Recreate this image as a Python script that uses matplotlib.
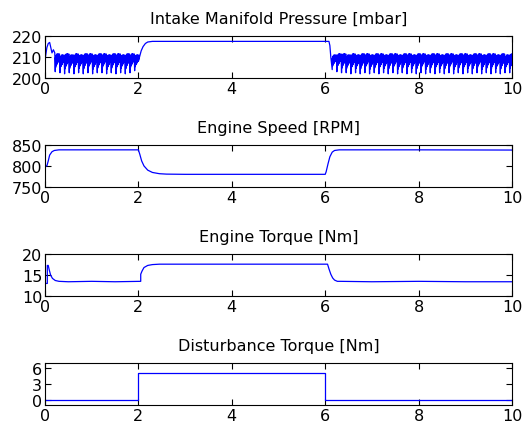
import numpy as np
import matplotlib
matplotlib.use("Agg")
import matplotlib.pyplot as plt

plt.rcParams['font.family'] = ['DejaVu Sans']

# ---------------- data ----------------
titles = ["Intake Manifold Pressure [mbar]", "Engine Speed [RPM]",
          "Engine Torque [Nm]", "Disturbance Torque [Nm]"]
xticks = [0, 2, 4, 6, 8, 10]
yticks_p = [200, 210, 220]
yticks_n = [750, 800, 850]
yticks_t = [10, 15, 20]
yticks_d = [0, 3, 6]

# intake manifold pressure: smooth parts
p_start_t = [0.0, 0.01, 0.04, 0.07, 0.10, 0.13, 0.15, 0.18, 0.21]
p_start_v = [200.0, 210.0, 214.5, 216.5, 217.0, 214.0, 212.0, 213.5, 212.0]
p_mid_t = [2.00, 2.03, 2.06, 2.10, 2.15, 2.20, 2.30, 2.50, 4.00, 6.08, 6.10, 6.12, 6.14]
p_mid_v = [208.0, 210.5, 213.0, 215.0, 216.5, 217.2, 217.5, 217.5, 217.5, 217.5, 215.5, 210.0, 206.0]
# sawtooth teeth: start times, troughs and peaks
teeth_t1 = [0.22, 0.32, 0.42, 0.52, 0.62, 0.72, 0.82, 0.92, 1.02, 1.12,
            1.22, 1.32, 1.42, 1.52, 1.62, 1.72, 1.82, 1.92]
teeth_lo1 = [203.0, 202.5, 202.0, 202.5, 202.0, 202.5, 202.0, 202.5, 202.0, 202.5,
             202.5, 202.0, 202.5, 202.0, 202.5, 202.0, 202.5, 203.5]
teeth_hi1 = [211.5, 211.0, 211.5, 211.0, 211.5, 211.0, 211.5, 211.5, 211.0, 211.5,
             211.5, 211.0, 211.5, 211.5, 211.0, 211.5, 211.5, 211.0]
teeth_t2 = [6.15, 6.25, 6.35, 6.45, 6.55, 6.65, 6.75, 6.85, 6.95, 7.05,
            7.15, 7.25, 7.35, 7.45, 7.55, 7.65, 7.75, 7.85, 7.95, 8.05,
            8.15, 8.25, 8.35, 8.45, 8.55, 8.65, 8.75, 8.85, 8.95, 9.05,
            9.15, 9.25, 9.35, 9.45, 9.55, 9.65, 9.75, 9.85, 9.95]
teeth_lo2 = [204.0, 203.0, 202.5, 202.5, 202.0, 202.5, 202.0, 202.5, 202.0, 202.5,
             202.0, 202.5, 202.0, 202.5, 202.0, 202.5, 202.0, 202.5, 202.0, 202.5,
             202.0, 202.5, 202.0, 202.5, 202.0, 202.5, 202.0, 202.5, 202.0, 202.5,
             202.0, 202.5, 202.0, 202.5, 202.0, 202.5, 202.0, 202.5, 202.5]
teeth_hi2 = [211.0, 211.5, 211.5, 211.0, 211.5, 211.0, 211.5, 211.5, 211.0, 211.5,
             211.5, 211.0, 211.5, 211.5, 211.0, 211.5, 211.5, 211.0, 211.5, 211.5,
             211.0, 211.5, 211.5, 211.0, 211.5, 211.5, 211.0, 211.5, 211.5, 211.0,
             211.5, 211.5, 211.0, 211.5, 211.5, 211.0, 211.5, 211.0, 211.5]
# within-tooth ripple shape (fraction of trough->peak span) and timing
ripple_frac = [0.0, 0.80, 0.25, 0.90, 0.35, 0.95, 0.40, 1.0, 0.45, 0.95,
               0.50, 1.0, 0.55, 1.0, 0.60, 0.95, 0.65, 1.0]
ripple_dt = [0.0, 0.005, 0.010, 0.015, 0.020, 0.025, 0.030, 0.035, 0.040, 0.045,
             0.050, 0.055, 0.060, 0.065, 0.070, 0.075, 0.080, 0.090]

# engine speed
n_t = [0.0, 0.04, 0.07, 0.10, 0.15, 0.20, 0.30, 1.0, 2.0, 2.03, 2.07, 2.12, 2.20,
       2.30, 2.45, 2.60, 3.0, 4.0, 6.0, 6.02, 6.06, 6.10, 6.15, 6.20, 6.30, 8.0, 10.0]
n_v = [800, 800, 812, 826, 834, 837, 838.5, 838.5, 838.5, 828, 812, 800, 790,
       784.5, 781.5, 780.5, 780, 780, 780, 786, 805, 822, 833, 837, 838.5, 838.5, 838]

# engine torque
tq_t = [0.0, 0.05, 0.05, 0.07, 0.09, 0.12, 0.16, 0.22, 0.30, 0.5, 1.0, 1.5, 2.05,
        2.05, 2.08, 2.12, 2.20, 2.30, 2.45, 2.60, 3.0, 6.05, 6.08, 6.12, 6.16, 6.20,
        6.26, 6.32, 7.0, 8.0, 9.0, 10.0]
tq_v = [13.0, 13.0, 17.3, 17.3, 16.3, 15.0, 14.2, 13.7, 13.5, 13.4, 13.5, 13.4, 13.5,
        15.2, 16.0, 16.8, 17.3, 17.5, 17.6, 17.6, 17.6, 17.6, 16.5, 15.2, 14.3, 13.8,
        13.5, 13.5, 13.4, 13.5, 13.4, 13.4]

# disturbance torque
d_t = [0.0, 2.0, 2.0, 6.0, 6.0, 10.0]
d_v = [0.0, 0.0, 5.0, 5.0, 0.0, 0.0]


def build_pressure():
    ts, vs = list(p_start_t), list(p_start_v)
    def add_teeth(tt, lo, hi):
        for t0, a, b in zip(tt, lo, hi):
            for f, dt in zip(ripple_frac, ripple_dt):
                ts.append(t0 + dt)
                vs.append(a + f * (b - a))
    add_teeth(teeth_t1, teeth_lo1, teeth_hi1)
    ts.extend(p_mid_t); vs.extend(p_mid_v)
    add_teeth(teeth_t2, teeth_lo2, teeth_hi2)
    return ts, vs

p_t, p_v = build_pressure()

fig = plt.figure(figsize=(5.23, 4.27), dpi=100)
left, width, height = 0.086, 0.893, 0.098
bottoms = [0.815, 0.560, 0.3045, 0.049]
series = [(p_t, p_v, (200, 220), yticks_p),
          (n_t, n_v, (750, 850), yticks_n),
          (tq_t, tq_v, (10, 20), yticks_t),
          (d_t, d_v, (-1, 6.8), yticks_d)]
fs = 11.5
for b, title, (tx, vy, yl, yt) in zip(bottoms, titles, series):
    ax = fig.add_axes([left, b, width, height])
    ax.plot(tx, vy, color=(0, 0, 1), lw=0.9)
    ax.set_xlim(0, 10)
    ax.set_ylim(*yl)
    ax.set_xticks(xticks)
    ax.set_yticks(yt)
    ax.tick_params(direction='in', top=True, right=True, length=4, width=0.8,
                   labelsize=fs, pad=2)
    for s in ax.spines.values():
        s.set_linewidth(0.8)
    ax.set_title(title, fontsize=fs, pad=9.5)

fig.savefig("out.png", dpi=100)
